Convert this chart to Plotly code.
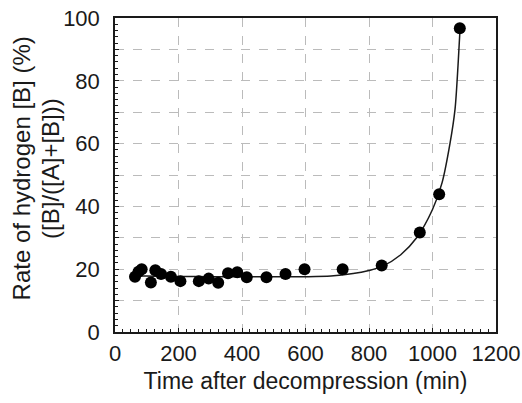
import plotly.graph_objects as go

# Measured data points
time_min = [63, 74, 84, 113, 127, 145, 176, 206, 264, 295, 325, 356, 385, 415, 477, 537, 597, 717, 840, 960, 1021, 1086]
rate_pct = [17.6, 19.2, 20.0, 15.8, 19.7, 18.5, 17.6, 16.2, 16.2, 17.0, 15.7, 18.7, 19.0, 17.4, 17.4, 18.5, 20.0, 20.0, 21.2, 31.7, 43.9, 96.7]

# Fitted curve
fit_time = [63, 100, 200, 300, 400, 500, 600, 680, 750, 800, 840, 900, 950, 1000, 1030, 1055, 1071, 1081, 1087]
fit_rate = [18.0, 17.8, 17.7, 17.6, 17.6, 17.6, 17.6, 17.8, 18.6, 19.6, 20.8, 24.6, 30.0, 39.0, 47.5, 60.0, 71.0, 86.0, 97.0]

x_ticks = [0, 200, 400, 600, 800, 1000, 1200]
y_grid = [0, 10, 20, 30, 40, 50, 60, 70, 80, 90, 100]
y_labels = ["0", "", "20", "", "40", "", "60", "", "80", "", "100"]

FONT = "Liberation Sans, Arial, sans-serif"
INK = "#1a1a1a"

fig = go.Figure()
fig.add_trace(go.Scatter(x=fit_time, y=fit_rate, mode="lines",
                         line=dict(color=INK, width=1.5, shape="spline", smoothing=0.8),
                         showlegend=False, hoverinfo="skip"))
fig.add_trace(go.Scatter(x=time_min, y=rate_pct, mode="markers",
                         marker=dict(color="black", size=12),
                         showlegend=False))

axis_common = dict(
    showline=True, linecolor=INK, linewidth=1.5, mirror=True,
    ticks="inside", ticklen=4, tickcolor=INK, tickwidth=1.2,
    showgrid=True, gridcolor="#bbbbbb", griddash="dash", gridwidth=1,
    zeroline=False, automargin=False,
    tickfont=dict(family=FONT, size=22, color=INK),
)

fig.update_xaxes(range=[0, 1200], tickmode="array", tickvals=x_ticks, ticktext=[str(v) for v in x_ticks],
                 minor=dict(dtick=25, ticks="inside", ticklen=3, tickcolor=INK, showgrid=False),
                 ticklabelstandoff=1,
                 title=dict(text="Time after decompression (min)", font=dict(family=FONT, size=23, color=INK), standoff=8),
                 **axis_common)
fig.update_yaxes(range=[0, 100], tickmode="array", tickvals=y_grid, ticktext=y_labels,
                 minor=dict(dtick=2, ticks="inside", ticklen=3, tickcolor=INK, showgrid=False),
                 ticklabelstandoff=9,
                 **axis_common)

fig.update_layout(
    width=522, height=403,
    margin=dict(l=115, r=26, t=18, b=71),
    paper_bgcolor="white", plot_bgcolor="white",
    font=dict(family=FONT, color=INK),
    annotations=[
        dict(text="Rate of hydrogen [B] (%)", xref="paper", yref="paper",
             x=-0.245, y=0.52, textangle=-90, showarrow=False, xanchor="center", yanchor="middle",
             font=dict(family=FONT, size=24, color=INK)),
        dict(text="([B]/([A]+[B]))", xref="paper", yref="paper",
             x=-0.17, y=0.52, textangle=-90, showarrow=False, xanchor="center", yanchor="middle",
             font=dict(family=FONT, size=24, color=INK)),
    ],
)

fig.write_html(
    "out.html",
    config={"displayModeBar": False},
    post_script="document.body.style.margin='0';document.body.style.overflow='hidden';document.documentElement.style.overflow='hidden';",
)
